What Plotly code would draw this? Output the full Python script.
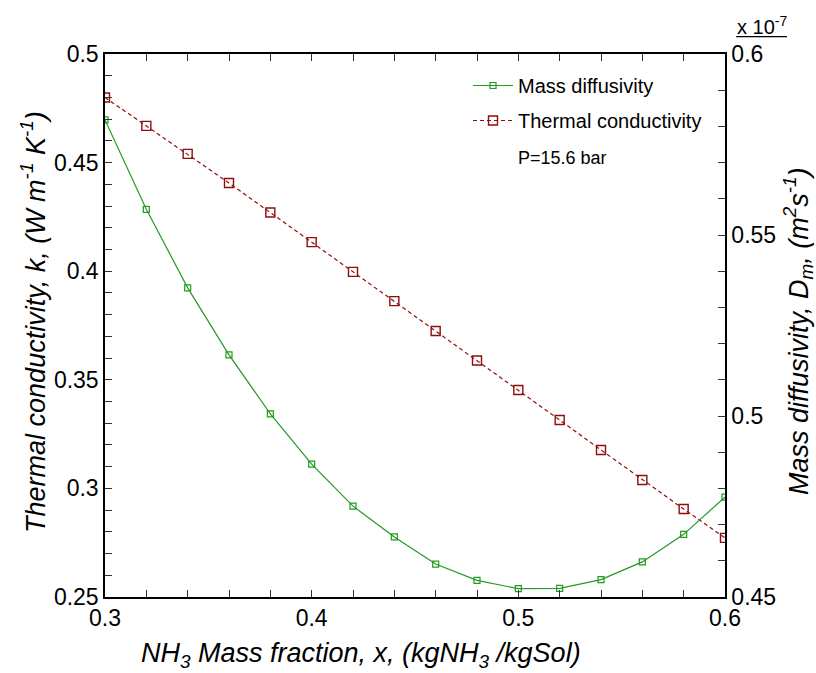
import plotly.graph_objects as go

# NH3 mass fraction (kg NH3 / kg solution)
mass_fraction = [0.30, 0.32, 0.34, 0.36, 0.38, 0.40, 0.42, 0.44, 0.46, 0.48,
                 0.50, 0.52, 0.54, 0.56, 0.58, 0.60]

# Mass diffusivity, in units of 1e-7 m^2/s
mass_diffusivity = [0.5818, 0.5571, 0.5354, 0.5169, 0.5006, 0.4867, 0.4751,
                    0.4666, 0.4591, 0.4546, 0.4523, 0.4524, 0.4548, 0.4597,
                    0.4673, 0.4776]

# Thermal conductivity, W/(m K)
thermal_conductivity = [0.4800, 0.4669, 0.4540, 0.4406, 0.4270, 0.4134, 0.3997,
                        0.3862, 0.3725, 0.3589, 0.3453, 0.3315, 0.3177, 0.3039,
                        0.2905, 0.2772]

x_ticks = [0.3, 0.4, 0.5, 0.6]
k_ticks = [0.25, 0.3, 0.35, 0.4, 0.45, 0.5]
d_ticks = [0.45, 0.5, 0.55, 0.6]

GREEN = "#239a23"
RED = "#8f0d0d"
FONT = "Liberation Sans, Arial, sans-serif"

fig = go.Figure()

fig.add_trace(go.Scatter(
    x=mass_fraction, y=mass_diffusivity, yaxis="y2",
    name="Mass diffusivity", mode="lines+markers", legendgroup="dm",
    line=dict(color=GREEN, width=1.2),
    marker=dict(symbol="square-open", size=6, color=GREEN, line=dict(width=1.2)),
))

fig.add_trace(go.Scatter(
    x=mass_fraction, y=thermal_conductivity, yaxis="y",
    name="Thermal conductivity", mode="lines+markers", legendgroup="k",
    line=dict(color=RED, width=1.2, dash="4px,3px"),
    marker=dict(symbol="square-open", size=9, color=RED, line=dict(width=1.4)),
))

axis_common = dict(
    showline=True, linecolor="black", linewidth=1.5,
    ticks="inside", ticklen=7, tickwidth=1, tickcolor="#333",
    showgrid=False, zeroline=False,
    tickfont=dict(family=FONT, size=23, color="black"),
)

fig.update_layout(
    width=816, height=673,
    margin=dict(l=105, r=91, t=54, b=76),
    paper_bgcolor="white", plot_bgcolor="white",
    font=dict(family=FONT, color="black"),
    showlegend=True,
    legend=dict(
        x=(468 - 105) / 620, y=(597 - 66) / 543, xanchor="left", yanchor="top",
        bgcolor="rgba(0,0,0,0)", font=dict(family=FONT, size=20),
        tracegroupgap=6, itemwidth=40,
    ),
    xaxis=dict(
        range=[0.3, 0.6], tickvals=x_ticks, ticktext=[f"{v:g}" for v in x_ticks],
        mirror="ticks",
        minor=dict(dtick=0.02, ticks="inside", ticklen=7, tickcolor="#333"),
        **axis_common,
    ),
    yaxis=dict(
        range=[0.25, 0.5], tickvals=k_ticks, ticktext=[f"{v:g}" for v in k_ticks],
        minor=dict(dtick=0.01, ticks="inside", ticklen=7, tickcolor="#333"),
        **axis_common,
    ),
    yaxis2=dict(
        range=[0.45, 0.6], tickvals=d_ticks, ticktext=[f"{v:g}" for v in d_ticks],
        overlaying="y", side="right",
        minor=dict(dtick=0.01, ticks="inside", ticklen=7, tickcolor="#333"),
        **axis_common,
    ),
)

title_font = dict(family=FONT, size=27, color="black")

annotations = [
    dict(text="<i>NH<sub>3</sub> Mass fraction, x, (kgNH<sub>3</sub> /kgSol)</i>",
         xref="paper", yref="paper", x=(361 - 105) / 620, y=-0.072,
         xanchor="center", yanchor="top", showarrow=False, font=title_font),
    dict(text="<i>Thermal conductivity, k, (W m<sup>-1</sup> K<sup>-1</sup>)</i>",
         xref="paper", yref="paper", x=-0.115, y=0.506,
         xanchor="center", yanchor="middle", textangle=-90, showarrow=False,
         font=title_font),
    dict(text="<i>Mass diffusivity, D<sub>m</sub>, (m<sup>2</sup>s<sup>-1</sup>)</i>",
         xref="paper", yref="paper", x=1.118, y=0.49,
         xanchor="center", yanchor="middle", textangle=-90, showarrow=False,
         font=title_font),
    dict(text="x 10<sup>-7</sup>",
         xref="paper", yref="paper", x=1.016, y=1.025,
         xanchor="left", yanchor="bottom", showarrow=False,
         font=dict(family=FONT, size=20, color="black")),
    dict(text="P=15.6 bar",
         xref="paper", yref="paper", x=(516 - 105) / 620, y=(597 - 158) / 543,
         xanchor="left", yanchor="middle", showarrow=False,
         font=dict(family=FONT, size=18, color="black")),
]
fig.update_layout(annotations=annotations)

# rule under the exponent label
fig.add_shape(type="line", xref="paper", yref="paper",
              x0=1.018, x1=1.1, y0=1.032, y1=1.032,
              line=dict(color="black", width=1.2))

fig.write_html("out.html")
